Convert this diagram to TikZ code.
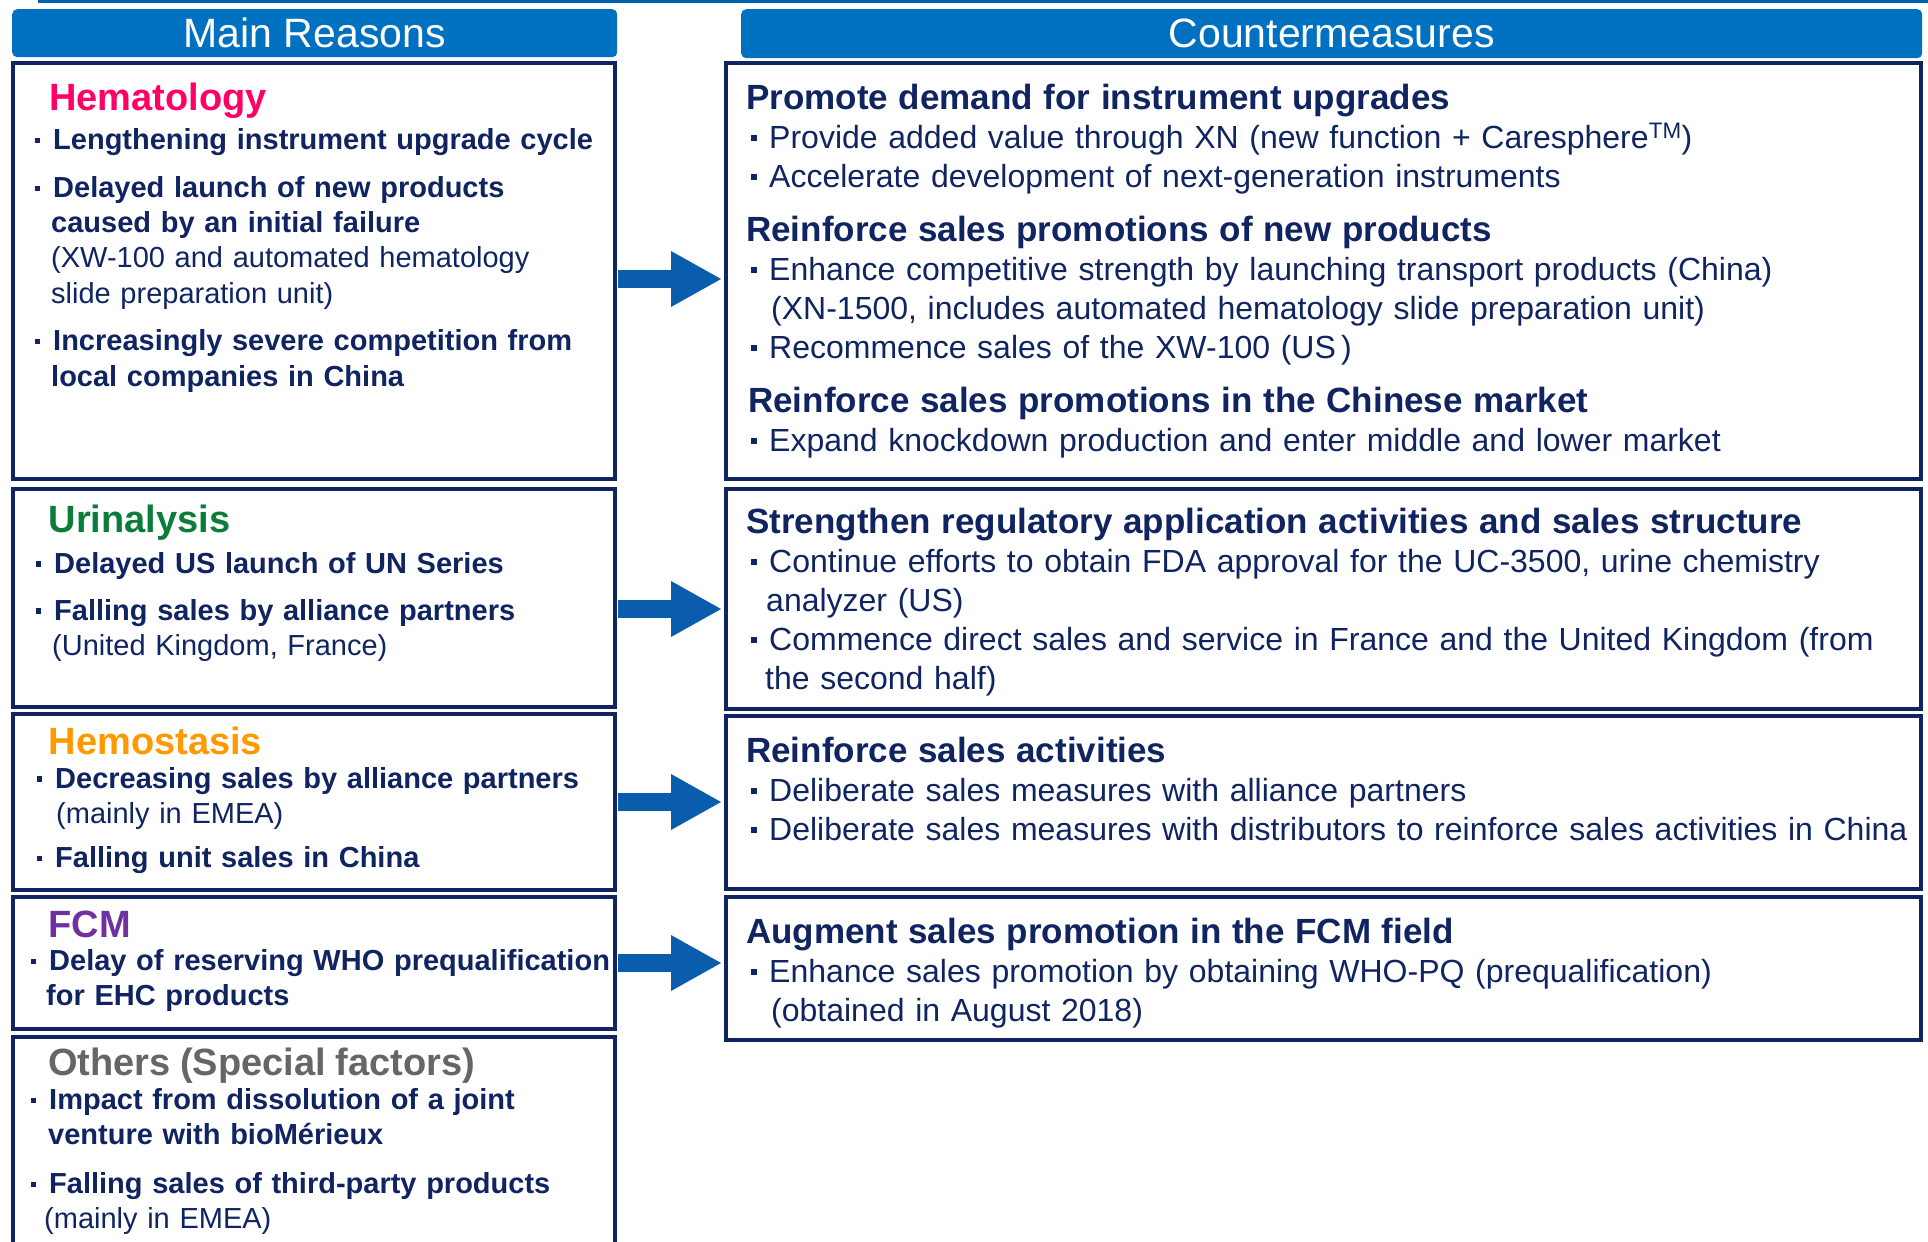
\documentclass[tikz,border=0pt]{standalone}
\usepackage{fontspec}
\setmainfont{Liberation Sans}
\usetikzlibrary{arrows.meta, positioning}

\definecolor{navy}{HTML}{0F2461}
\definecolor{headblue}{HTML}{0070C0}
\definecolor{lineblue}{HTML}{0062AC}
\definecolor{arrowblue}{HTML}{0A5CAC}
\definecolor{hemared}{HTML}{FF0066}
\definecolor{urigreen}{HTML}{0A7D3B}
\definecolor{hemoorange}{HTML}{FF9900}
\definecolor{fcmpurple}{HTML}{7030A0}
\definecolor{othergray}{HTML}{666666}

% small square bullets
\newcommand\sq{\rule[0.22em]{0.18em}{0.18em}}
\newcommand\bul{\makebox[18pt][l]{\sq}}
\newcommand\ind{\hspace*{16pt}}
\newcommand\rb{\hspace*{5pt}\bul}
\newcommand\cat[2]{{\color{#1}\fontsize{38}{38}\selectfont #2}}
\newcommand\measure[1]{{\fontsize{35}{39}\selectfont\bfseries #1}}

\tikzset{
  header/.style={fill=headblue, rounded corners=5pt, text=white, inner sep=0pt,
    anchor=north west, font=\fontsize{41}{41}\selectfont},
  panel/.style={draw=navy, line width=4pt, anchor=north west, inner sep=0pt},
  reasontext/.style={anchor=base west, inner sep=0pt, text width=590pt, align=left,
    text=navy, font=\fontsize{29}{35.3}\selectfont\bfseries},
  cmtext/.style={anchor=base west, inner sep=0pt, text width=1180pt, align=left,
    text=navy, font=\fontsize{32}{39}\selectfont},
  bigarrow/.style={arrowblue, line width=18pt, -{Triangle[length=51pt,width=52pt]}}
}

\begin{document}
\begin{tikzpicture}[x=1pt, y=-1pt]
    \clip (0,0) rectangle (1928,1242);

    \draw[lineblue, line width=3pt] (38,1.5) -- (1928,1.5);

    % Headers
    \node[header, minimum width=605pt, minimum height=48pt] (reasons) at (12,9) {Main Reasons};
    \node[header, minimum width=1181pt, minimum height=49pt] (counter) at (741,9) {Countermeasures};

    % Left column
    \node[panel, minimum width=602pt, minimum height=416pt] (hema) at (11,61) {};
    \node[panel, minimum width=602pt, minimum height=218pt] (uri) at (11,487) {};
    \node[panel, minimum width=602pt, minimum height=176pt] (hemo) at (11,712) {};
    \node[panel, minimum width=602pt, minimum height=132pt] (fcm) at (11,895) {};
    \node[panel, minimum width=602pt, minimum height=260pt] (other) at (11,1035) {};

    % Right column
    \node[panel, minimum width=1195pt, minimum height=416pt] (cmHema) at (724,61) {};
    \node[panel, minimum width=1195pt, minimum height=220pt] (cmUri) at (724,487) {};
    \node[panel, minimum width=1195pt, minimum height=173pt] (cmHemo) at (724,714) {};
    \node[panel, minimum width=1195pt, minimum height=143pt] (cmFcm) at (724,895) {};

    \node[reasontext] (hemaTxt) at (35,110) {%
      \hspace*{14pt}\cat{hemared}{Hematology}\\[4pt]
      \bul Lengthening instrument upgrade cycle\\[12.5pt]
      \bul Delayed launch of new products\\
      \ind caused by an initial failure\\
      \ind{\mdseries (XW-100 and automated hematology}\\
      \ind{\mdseries slide preparation unit)}\\[12.5pt]
      \bul Increasingly severe competition from\\
      \ind local companies in China};

    \node[reasontext] (uriTxt) at (36,532) {%
      \hspace*{12.5pt}\cat{urigreen}{Urinalysis}\\[5.7pt]
      \bul Delayed US launch of UN Series\\[11.7pt]
      \bul Falling sales by alliance partners\\
      \ind{\mdseries (United Kingdom, France)}};

    \node[reasontext] (hemoTxt) at (37,754) {%
      \hspace*{11.5pt}\cat{hemoorange}{Hemostasis}\\[-1.3pt]
      \bul Decreasing sales by alliance partners\\
      \hspace*{19pt}{\mdseries (mainly in EMEA)}\\[9pt]
      \bul Falling unit sales in China};

    \node[reasontext] (fcmTxt) at (31,937) {%
      \hspace*{17.5pt}\cat{fcmpurple}{FCM}\\[-2pt]
      \bul Delay of reserving WHO prequalification\\
      \hspace*{15pt}for EHC products};

    \node[reasontext] (otherTxt) at (31,1075) {%
      \hspace*{17pt}\cat{othergray}{Others (Special factors)}\\[-1pt]
      \bul Impact from dissolution of a joint\\
      \hspace*{17pt}venture with bioMérieux\\[13.7pt]
      \bul Falling sales of third-party products\\
      \hspace*{13pt}{\mdseries (mainly in EMEA)}};

    \node[cmtext] (cmHemaTxt) at (746,109) {%
      \measure{Promote demand for instrument upgrades}\\
      \rb Provide added value through XN (new function + Caresphere\textsuperscript{TM})\\
      \rb Accelerate development of next-generation instruments\\[15pt]
      \measure{Reinforce sales promotions of new products}\\
      \rb Enhance competitive strength by launching transport products (China)\\
      \hspace*{25pt}(XN-1500, includes automated hematology slide preparation unit)\\
      \rb Recommence sales of the XW-100 (US\,)\\[15pt]
      \hspace*{2pt}\measure{Reinforce sales promotions in the Chinese market}\\
      \rb Expand knockdown production and enter middle and lower market};

    \node[cmtext] (cmUriTxt) at (746,533) {%
      \measure{Strengthen regulatory application activities and sales structure}\\
      \rb Continue efforts to obtain FDA approval for the UC-3500, urine chemistry\\
      \hspace*{20pt}analyzer (US)\\
      \rb Commence direct sales and service in France and the United Kingdom (from\\
      \hspace*{19pt}the second half)};

    \node[cmtext] (cmHemoTxt) at (746,762) {%
      \measure{Reinforce sales activities}\\
      \rb Deliberate sales measures with alliance partners\\
      \rb Deliberate sales measures with distributors to reinforce sales activities in China};

    \node[cmtext] (cmFcmTxt) at (746,943) {%
      \measure{Augment sales promotion in the FCM field}\\
      \rb Enhance sales promotion by obtaining WHO-PQ (prequalification)\\
      \hspace*{25pt}(obtained in August 2018)};

    % Arrows
    \draw[bigarrow] ([xshift=1pt,yshift=-8pt]hema.east) -- ([xshift=-2pt,yshift=-8pt]hema.east -| cmHema.west);
    \draw[bigarrow] ([xshift=1pt,yshift=-11pt]uri.east) -- ([xshift=-2pt,yshift=-11pt]uri.east -| cmUri.west);
    \draw[bigarrow] ([xshift=1pt]hemo.east) -- ([xshift=-2pt]hemo.east -| cmHemo.west);
    \draw[bigarrow] ([xshift=1pt]fcm.east) -- ([xshift=-2pt]fcm.east -| cmFcm.west);
\end{tikzpicture}
\end{document}
